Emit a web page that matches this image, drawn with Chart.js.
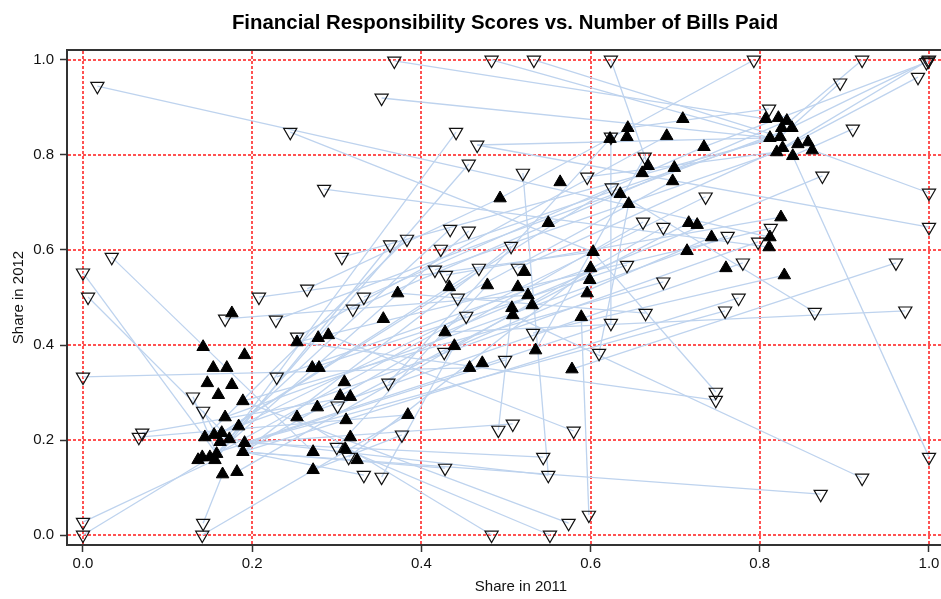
<!DOCTYPE html>
<html>
<head>
<meta charset="utf-8">
<title>Financial Responsibility Scores vs. Number of Bills Paid</title>
<script src="https://cdn.jsdelivr.net/npm/chart.js@4.4.1/dist/chart.umd.min.js"></script>
<style>
  html, body { margin: 0; padding: 0; background: #fff; }
  #wrap { width: 941px; height: 599px; }
</style>
</head>
<body>
<div id="wrap"><canvas id="chart" width="941" height="599"></canvas></div>
<script>
// tick values shared by both axes
var xTicks = [0, 0.2, 0.4, 0.6, 0.8, 1.0];
var yTicks = [0, 0.2, 0.4, 0.6, 0.8, 1.0];

// filled up-triangles
var filledX = [
  0.142, 0.191, 0.154, 0.170, 0.147, 0.176, 0.160, 0.189, 0.168, 0.184, 0.144, 0.155,
  0.164, 0.162, 0.173, 0.191, 0.189, 0.141, 0.136, 0.150, 0.158, 0.156, 0.165, 0.182,
  0.176, 0.253, 0.278, 0.290, 0.271, 0.279, 0.309, 0.304, 0.316, 0.277, 0.253, 0.311,
  0.316, 0.310, 0.324, 0.272, 0.272, 0.372, 0.355, 0.384, 0.428,
  0.439, 0.457, 0.472, 0.535, 0.578, 0.589, 0.507, 0.508, 0.522, 0.514, 0.526, 0.531,
  0.596, 0.600, 0.599, 0.603, 0.433, 0.478, 0.493, 0.550, 0.564,
  0.644, 0.643, 0.623, 0.709, 0.690, 0.734, 0.668, 0.661, 0.699, 0.697, 0.635, 0.645,
  0.716, 0.726, 0.743, 0.714, 0.760, 0.825, 0.812, 0.811, 0.829,
  0.807, 0.822, 0.832, 0.826, 0.838, 0.812, 0.824, 0.845, 0.857, 0.862, 0.839, 0.820, 0.827
];
var filledY = [
  0.396, 0.379, 0.352, 0.352, 0.320, 0.316, 0.295, 0.282, 0.248, 0.229, 0.206, 0.211,
  0.215, 0.196, 0.202, 0.194, 0.175, 0.164, 0.158, 0.164, 0.171, 0.158, 0.128, 0.133,
  0.467, 0.406, 0.415, 0.421, 0.352, 0.352, 0.322, 0.293, 0.291, 0.269, 0.248, 0.242,
  0.206, 0.181, 0.158, 0.175, 0.137, 0.509, 0.455, 0.253, 0.427,
  0.398, 0.352, 0.362, 0.389, 0.349, 0.459, 0.478, 0.463, 0.554, 0.522, 0.505, 0.484,
  0.509, 0.562, 0.537, 0.596, 0.522, 0.526, 0.709, 0.657, 0.743,
  0.857, 0.838, 0.834, 0.876, 0.840, 0.817, 0.777, 0.762, 0.773, 0.745, 0.718, 0.697,
  0.657, 0.653, 0.627, 0.598, 0.562, 0.669, 0.627, 0.606, 0.547,
  0.876, 0.878, 0.872, 0.857, 0.857, 0.836, 0.838, 0.823, 0.827, 0.810, 0.798, 0.806, 0.815
];

// open down-triangles
var hollowX = [
  0.017, 0.245, 0.353, 0.285, 0.034, 0.000, 0.006, 0.306, 0.265, 0.208, 0.332, 0.368,
  0.483, 0.533, 0.624, 0.793, 0.921, 1.000, 0.999, 0.997, 0.987, 0.895, 0.811, 0.910,
  0.441, 0.466, 0.456, 0.520, 0.596, 0.625, 0.624, 0.664, 0.662, 0.686, 0.736, 0.874,
  1.000, 1.000, 0.762, 0.813, 0.798, 0.780, 0.961, 0.686, 0.643, 0.775, 0.759, 0.865,
  0.972, 0.748, 0.748, 1.000, 0.921, 0.872, 0.434, 0.456, 0.383, 0.363, 0.423, 0.506,
  0.416, 0.429, 0.468, 0.514, 0.443, 0.453, 0.532, 0.427, 0.499, 0.610, 0.624, 0.665,
  0.491, 0.508, 0.580, 0.377, 0.353, 0.332, 0.300, 0.314, 0.428, 0.544, 0.550, 0.598,
  0.574, 0.483, 0.552, 0.228, 0.253, 0.229, 0.301, 0.319, 0.168, 0.130, 0.142, 0.070,
  0.066, 0.000, 0.000, 0.000, 0.142, 0.141, 0.361
];
var hollowY = [
  0.945, 0.848, 0.920, 0.728, 0.585, 0.552, 0.501, 0.585, 0.518, 0.501, 0.501, 0.998,
  1.000, 1.000, 1.000, 1.000, 1.000, 1.000, 0.998, 0.995, 0.964, 0.952, 0.897, 0.855,
  0.848, 0.821, 0.781, 0.762, 0.754, 0.731, 0.838, 0.796, 0.659, 0.648, 0.712, 0.756,
  0.720, 0.648, 0.629, 0.646, 0.617, 0.573, 0.573, 0.533, 0.568, 0.499, 0.472, 0.469,
  0.472, 0.301, 0.284, 0.164, 0.120, 0.086, 0.644, 0.640, 0.623, 0.611, 0.602, 0.608,
  0.558, 0.547, 0.562, 0.562, 0.499, 0.461, 0.425, 0.385, 0.368, 0.383, 0.446, 0.467,
  0.221, 0.234, 0.219, 0.211, 0.122, 0.126, 0.185, 0.164, 0.141, 0.164, 0.126, 0.042,
  0.025, 0.000, 0.000, 0.453, 0.417, 0.333, 0.272, 0.476, 0.455, 0.291, 0.261, 0.215,
  0.206, 0.333, 0.027, 0.000, 0.025, 0.000, 0.320
];

// other end of the line drawn from each open triangle
var linkX = [
  0.812, 0.603, 0.812, 0.811, 0.272, 0.158, 0.189, 0.824, 0.493, 0.603, 0.734, 0.807,
  0.812, 0.824, 0.668, 0.493, 0.826, 0.827, 0.812, 0.734, 0.820, 0.824, 0.644, 0.839,
  0.173, 0.812, 0.158, 0.550, 0.820, 0.164, 0.624, 0.535, 0.189, 0.182, 0.184, 0.428,
  0.862, 0.466, 0.168, 0.253, 0.155, 0.253, 0.578, 0.189, 0.271, 0.189, 0.191, 0.635,
  0.428, 0.603, 0.253, 0.839, 0.508, 0.189, 0.162, 0.158, 0.144, 0.156, 0.812, 0.189,
  0.820, 0.825, 0.164, 0.827, 0.697, 0.158, 0.829, 0.743, 0.141, 0.645, 0.191, 0.372,
  0.507, 0.191, 0.290, 0.272, 0.439, 0.189, 0.478, 0.600, 0.189, 0.191, 0.173, 0.589,
  0.189, 0.253, 0.310, 0.838, 0.690, 0.600, 0.716, 0.832, 0.526, 0.158, 0.162, 0.316,
  0.384, 0.457, 0.156, 0.158, 0.165, 0.384, 0.623
];
var linkY = [
  0.627, 0.596, 0.836, 0.606, 0.175, 0.171, 0.175, 0.838, 0.709, 0.596, 0.817, 0.876,
  0.836, 0.838, 0.777, 0.709, 0.857, 0.815, 0.836, 0.817, 0.806, 0.838, 0.857, 0.798,
  0.202, 0.836, 0.171, 0.126, 0.806, 0.215, 0.446, 0.389, 0.175, 0.133, 0.229, 0.427,
  0.810, 0.821, 0.248, 0.406, 0.211, 0.248, 0.349, 0.282, 0.352, 0.175, 0.194, 0.718,
  0.427, 0.596, 0.406, 0.798, 0.463, 0.175, 0.196, 0.171, 0.206, 0.158, 0.836, 0.175,
  0.806, 0.669, 0.215, 0.815, 0.745, 0.171, 0.547, 0.627, 0.164, 0.697, 0.194, 0.509,
  0.478, 0.194, 0.421, 0.137, 0.398, 0.175, 0.526, 0.562, 0.175, 0.194, 0.202, 0.459,
  0.282, 0.248, 0.181, 0.857, 0.840, 0.562, 0.657, 0.872, 0.505, 0.171, 0.196, 0.291,
  0.253, 0.352, 0.158, 0.171, 0.128, 0.253, 0.834
];

var titleText = 'Financial Responsibility Scores vs. Number of Bills Paid';
var xTitleText = 'Share in 2011';
var fontFamily = "'Liberation Sans', Arial, sans-serif";
var lineColor = '#bed3ee';

// the picture is a crop of a wider page: the panel runs on to x = 1.054
// and the title is centred on the page, not on the visible part
var xMin = -0.0189, xMaxVisible = 1.0142, xMaxPanel = 1.0544;
var pageWidth = 1010;

Chart.defaults.font.family = fontFamily;
Chart.defaults.color = '#111';

function toPoints(xs, ys) {
  var pts = [];
  for (var i = 0; i < xs.length; i++) {
    pts.push({ x: xs[i], y: ys[i] });
  }
  return pts;
}

var datasets = [];

// one small line per open triangle, drawn beneath the markers
for (var i = 0; i < hollowX.length; i++) {
  datasets.push({
    type: 'scatter',
    data: [{ x: hollowX[i], y: hollowY[i] }, { x: linkX[i], y: linkY[i] }],
    showLine: true,
    borderColor: lineColor,
    borderWidth: 1.3,
    pointRadius: 0,
    pointHoverRadius: 0,
    order: 2
  });
}

datasets.push({
  type: 'scatter',
  data: toPoints(hollowX, hollowY),
  pointStyle: 'triangle',
  rotation: 180,
  pointRadius: 7.6,
  backgroundColor: 'rgba(0,0,0,0)',
  borderColor: '#111',
  borderWidth: 1.2,
  order: 1
});

datasets.push({
  type: 'scatter',
  data: toPoints(filledX, filledY),
  pointStyle: 'triangle',
  pointRadius: 7.2,
  backgroundColor: '#000',
  borderColor: '#000',
  borderWidth: 1,
  order: 0
});

// red dotted reference grid at every tick, under the data
// (left unaligned on purpose so it comes out soft, like the original)
var dottedGrid = {
  id: 'dottedGrid',
  beforeDatasetsDraw: function(chart) {
    var a = chart.chartArea, ctx = chart.ctx;
    var xs = chart.scales.x, ys = chart.scales.y;
    ctx.save();
    ctx.strokeStyle = '#ff1a1a';
    ctx.lineWidth = 1.5;
    ctx.setLineDash([3, 2]);
    xs.ticks.forEach(function(t) {
      var px = Math.round(xs.getPixelForValue(t.value));
      ctx.beginPath();
      ctx.moveTo(px, a.top + 1);
      ctx.lineTo(px, a.bottom - 1);
      ctx.stroke();
    });
    ys.ticks.forEach(function(t) {
      var py = Math.round(ys.getPixelForValue(t.value));
      ctx.beginPath();
      ctx.moveTo(a.left + 1, py);
      ctx.lineTo(a.right, py);
      ctx.stroke();
    });
    ctx.restore();
  }
};

// top edge of the frame, the main title and the x title
var frameAndTitles = {
  id: 'frameAndTitles',
  afterDraw: function(chart) {
    var a = chart.chartArea, ctx = chart.ctx;
    ctx.save();
    ctx.strokeStyle = '#333';
    ctx.lineWidth = 2;
    ctx.beginPath();
    ctx.moveTo(a.left - 1, a.top);
    ctx.lineTo(a.right, a.top);
    ctx.stroke();

    ctx.fillStyle = '#000';
    ctx.textAlign = 'center';
    ctx.textBaseline = 'middle';
    ctx.font = 'bold 20.4px ' + fontFamily;
    ctx.fillText(titleText, pageWidth / 2, 23);

    ctx.fillStyle = '#111';
    ctx.font = '15px ' + fontFamily;
    var xMid = chart.scales.x.getPixelForValue((xMin + xMaxPanel) / 2);
    ctx.fillText(xTitleText, xMid, 587);
    ctx.restore();
  }
};

function axisOptions(ticks, lo, hi, isY) {
  return {
    type: 'linear',
    min: lo,
    max: hi,
    afterBuildTicks: function(scale) {
      scale.ticks = ticks.map(function(v) { return { value: v }; });
    },
    afterFit: function(scale) {
      if (isY) { scale.width = 67; } else { scale.height = 54; }
      scale.paddingLeft = 0;
      scale.paddingRight = 0;
      scale.paddingTop = 0;
      scale.paddingBottom = 0;
    },
    ticks: {
      callback: function(v) { return Number(v).toFixed(1); },
      font: { size: 15 },
      color: '#111',
      padding: isY ? 6 : 3,
      maxRotation: 0
    },
    grid: {
      color: 'rgba(0,0,0,0)',
      drawTicks: true,
      tickLength: 7,
      tickColor: '#333',
      tickWidth: 1.5
    },
    border: { display: true, color: '#333', width: 2 },
    title: {
      display: isY,
      text: 'Share in 2012',
      font: { size: 15 },
      color: '#111',
      padding: { top: 10, bottom: 0 }
    }
  };
}

new Chart(document.getElementById('chart'), {
  type: 'scatter',
  data: { datasets: datasets },
  options: {
    responsive: false,
    animation: false,
    devicePixelRatio: 1,
    events: [],
    layout: { autoPadding: false, padding: { top: 50, right: 0, bottom: 0, left: 0 } },
    plugins: {
      legend: { display: false },
      tooltip: { enabled: false },
      title: { display: false }
    },
    scales: {
      x: axisOptions(xTicks, xMin, xMaxVisible, false),
      y: axisOptions(yTicks, -0.021, 1.021, true)
    }
  },
  plugins: [dottedGrid, frameAndTitles]
});
</script>
</body>
</html>
